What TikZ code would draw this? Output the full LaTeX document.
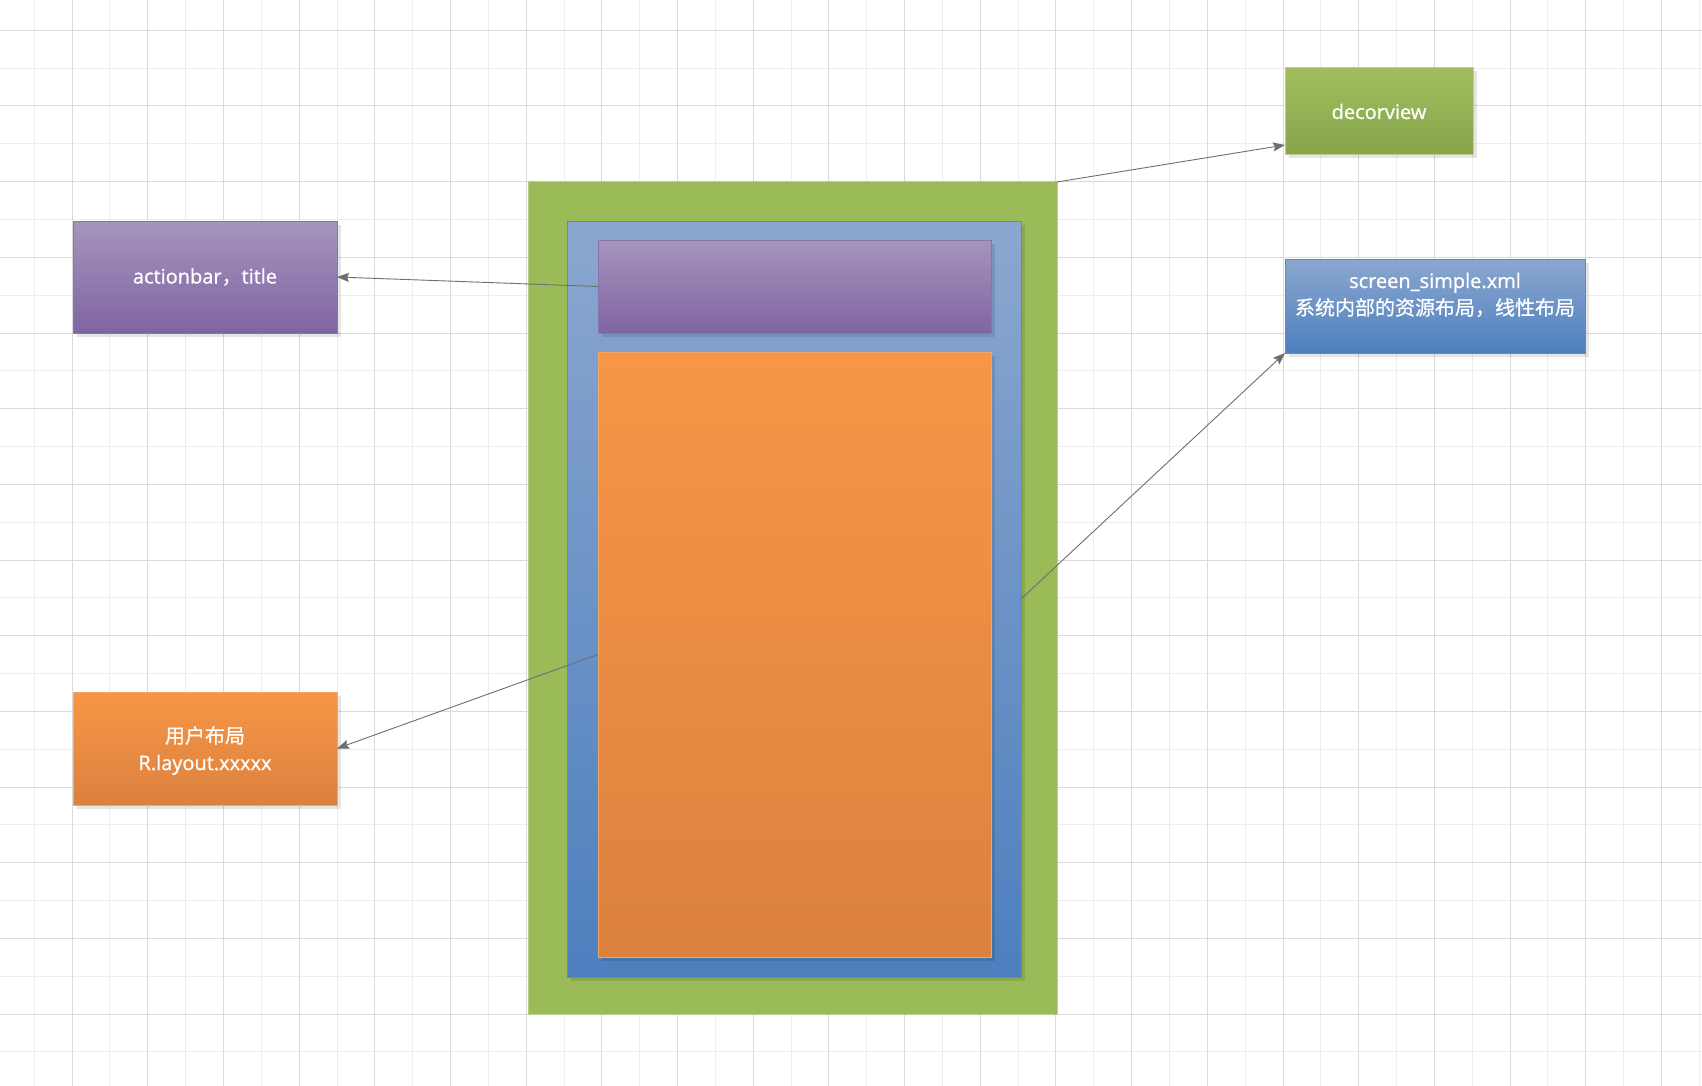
\documentclass[tikz,border=0pt]{standalone}
\usepackage{fontspec}
\setmainfont{Open Sans}[FakeBold=0.9]
\newfontfamily\cjk{Noto Sans CJK SC}[FakeBold=0.7]
\usetikzlibrary{arrows.meta,shadows}
\definecolor{gridlight}{HTML}{EDEDED}
\definecolor{griddark}{HTML}{DADADA}
\definecolor{olive}{HTML}{9BBB59}
\definecolor{olivetop}{HTML}{A0BE5E}
\definecolor{olivebot}{HTML}{88A44C}
\definecolor{olivebd}{HTML}{B9D08C}
\definecolor{bluetop}{HTML}{8BA7CF}
\definecolor{bluebot}{HTML}{4D7FBE}
\definecolor{bluebd}{HTML}{6289BF}
\definecolor{purptop}{HTML}{A595BD}
\definecolor{purpbot}{HTML}{8064A2}
\definecolor{purpbd}{HTML}{8A73AC}
\definecolor{orgtop}{HTML}{F79646}
\definecolor{orgbot}{HTML}{DB813F}
\definecolor{orgbd}{HTML}{F2A66A}
\definecolor{arrowgray}{HTML}{6E6E6E}
\begin{document}
\begin{tikzpicture}[x=1pt,y=-1pt,
  box/.style={draw, line width=1pt, inner sep=0pt, outer sep=0pt, anchor=north west,
    text=white, align=center, font=\fontsize{20}{27}\selectfont},
  shad/.style={drop shadow={shadow xshift=3.5pt, shadow yshift=-3.5pt, fill=black, opacity=0.1}},
  greenbox/.style={box, draw=olivebd, top color=olivetop, bottom color=olivebot, shad},
  bluebox/.style={box, draw=bluebd, top color=bluetop, bottom color=bluebot, shad},
  purplebox/.style={box, draw=purpbd, top color=purptop, bottom color=purpbot, shad},
  orangebox/.style={box, draw=orgbd, top color=orgtop, bottom color=orgbot, shad},
  arr/.style={draw=arrowgray, line width=0.9pt, -{Stealth[length=12pt,width=9pt,inset=2pt]}},
  lbl/.style={text=white, align=center, inner sep=0pt, font=\fontsize{20}{27}\selectfont}
]
\useasboundingbox (0,0) rectangle (1702,1086);
\fill[white] (0,0) rectangle (1702,1086);
% grid
\foreach \k in {0,2,...,44} {\draw[gridlight, line width=1pt] ({34.3+37.84*\k},0) -- ({34.3+37.84*\k},1086);}
\foreach \k in {1,3,...,27} {\draw[gridlight, line width=1pt] (0,{30.3+37.84*\k}) -- (1702,{30.3+37.84*\k});}
\foreach \k in {1,3,...,43} {\draw[griddark, line width=1pt] ({34.3+37.84*\k},0) -- ({34.3+37.84*\k},1086);}
\foreach \k in {0,2,...,26} {\draw[griddark, line width=1pt] (0,{30.3+37.84*\k}) -- (1702,{30.3+37.84*\k});}

% main nested layout
\node[box, draw=olivebd, fill=olive, minimum width=529pt, minimum height=832pt] (outer) at (528,182) {};
\node[bluebox, minimum width=454pt, minimum height=756pt] (inner) at (567,221) {};
\node[purplebox, minimum width=393pt, minimum height=93pt] (bar) at (598,240) {};
\node[orangebox, minimum width=393pt, minimum height=605pt] (content) at (598,352) {};

% side boxes
\node[greenbox, minimum width=188pt, minimum height=87pt] (decor) at (1285,68) {decorview};
\node[bluebox, minimum width=300pt, minimum height=94pt] (screen) at (1285,259) {};
\node[lbl] (screentxt) at (1435,295) {screen\_simple.xml\\{\cjk 系统内部的资源布局，线性布局}};
\node[purplebox, minimum width=264pt, minimum height=112pt] (actionbar) at (73,221) {actionbar{\cjk ，}title};
\node[orangebox, minimum width=264pt, minimum height=113pt] (user) at (73,692) {};
\node[lbl] (usertxt) at (205,750.5) {{\cjk 用户布局}\\R.layout.xxxxx};

% connectors
\draw[arr] (outer.north east) -- ([yshift=10pt]decor.south west);
\draw[arr] (inner.east) -- (screen.south west);
\draw[arr] (bar.west) -- (actionbar.east);
\draw[arr] (content.west) -- (user.east);
\end{tikzpicture}
\end{document}
